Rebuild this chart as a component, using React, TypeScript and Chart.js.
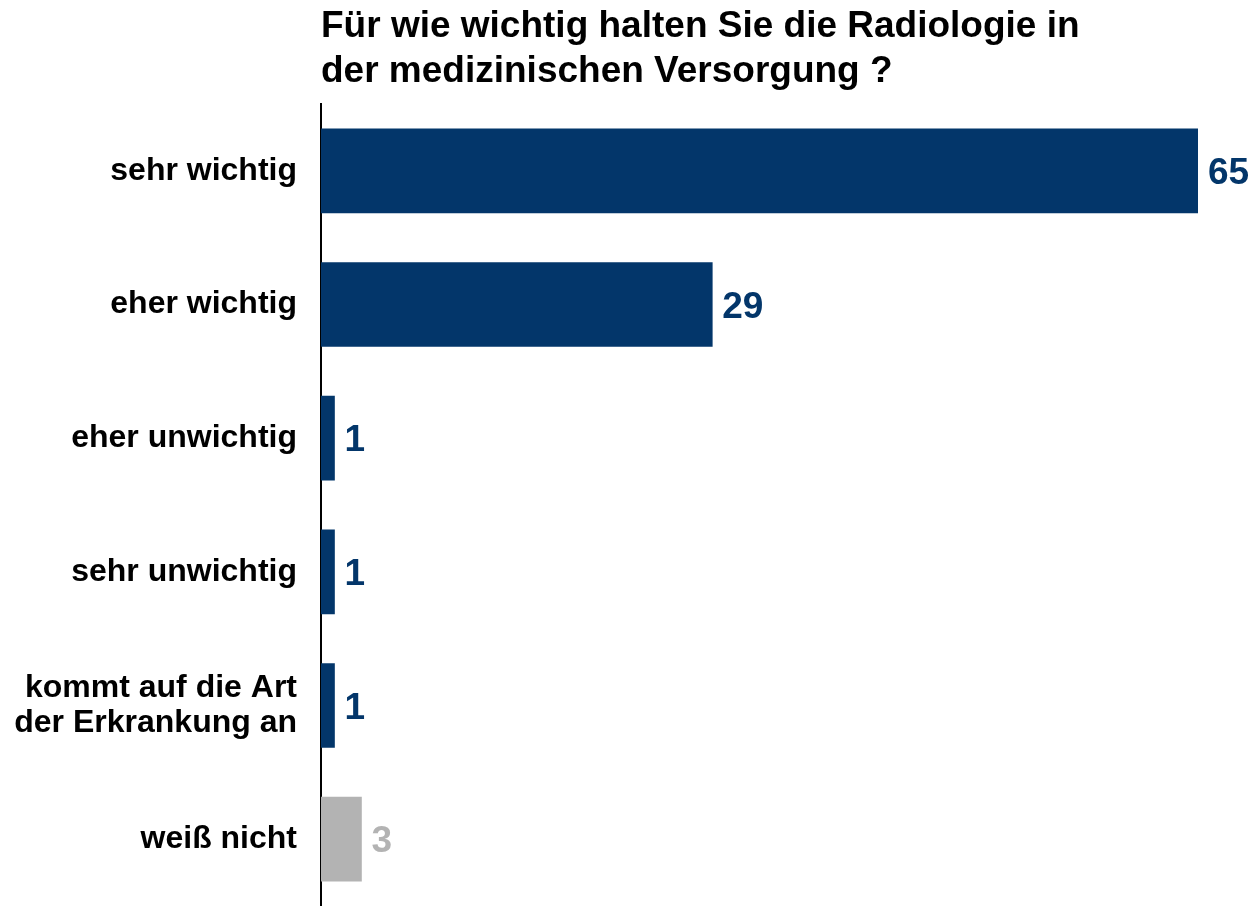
import React, { useEffect, useRef } from "react";
import { Chart, registerables } from "chart.js";

Chart.register(...registerables);

const titleLines = [
  "Für wie wichtig halten Sie die Radiologie in",
  "der medizinischen Versorgung ?",
];
const categories: (string | string[])[] = [
  "sehr wichtig",
  "eher wichtig",
  "eher unwichtig",
  "sehr unwichtig",
  ["kommt auf die Art", "der Erkrankung an"],
  "weiß nicht",
];
const values = [65, 29, 1, 1, 1, 3];
const barColors = ["#03366A", "#03366A", "#03366A", "#03366A", "#03366A", "#B3B3B3"];
const labelColors = ["#03366A", "#03366A", "#03366A", "#03366A", "#03366A", "#B3B3B3"];

const FONT = "'Liberation Sans', Arial, sans-serif";

export default function App() {
  const ref = useRef<HTMLCanvasElement | null>(null);

  useEffect(() => {
    document.body.style.margin = "0";
    const canvas = ref.current;
    if (!canvas) return;

    const titlePlugin = {
      id: "customTitle",
      afterDraw(chart: any) {
        const ctx = chart.ctx;
        ctx.save();
        ctx.font = `bold 37px ${FONT}`;
        ctx.fillStyle = "#000";
        ctx.textAlign = "left";
        ctx.textBaseline = "alphabetic";
        const x = chart.chartArea.left;
        ctx.fillText(titleLines[0], x, 37);
        ctx.fillText(titleLines[1], x, 82);
        ctx.restore();
      },
    };

    const valuePlugin = {
      id: "valueLabels",
      afterDatasetsDraw(chart: any) {
        const ctx = chart.ctx;
        const meta = chart.getDatasetMeta(0);
        ctx.save();
        ctx.font = `bold 37px ${FONT}`;
        ctx.textAlign = "left";
        ctx.textBaseline = "alphabetic";
        meta.data.forEach((bar: any, i: number) => {
          ctx.fillStyle = labelColors[i];
          ctx.fillText(String(values[i]), bar.x + 10, bar.y + 13);
        });
        ctx.restore();
      },
    };

    const chart = new Chart(canvas, {
      type: "bar",
      data: {
        labels: categories,
        datasets: [
          {
            data: values,
            backgroundColor: barColors,
            borderWidth: 0,
            barThickness: 84,
          },
        ],
      },
      options: {
        indexAxis: "y",
        animation: false,
        responsive: false,
        layout: { padding: { top: 104, right: 56, bottom: 0, left: 0 } },
        plugins: {
          legend: { display: false },
          tooltip: { enabled: false },
          title: { display: false },
        },
        scales: {
          x: {
            display: false,
            min: 0,
            max: 65,
          },
          y: {
            grid: { display: false, drawTicks: false },
            border: { display: true, color: "#000", width: 2 },
            ticks: {
              color: "#000",
              padding: 24,
              font: { family: FONT, size: 32, weight: "bold", lineHeight: 1.1 },
            },
            afterFit(scale: any) {
              scale.width = 321;
              scale.paddingTop = 0;
              scale.paddingBottom = 0;
            },
          },
        },
      },
      plugins: [titlePlugin, valuePlugin],
    });

    return () => chart.destroy();
  }, []);

  return (
    <div style={{ width: 1254, height: 906, background: "#fff" }}>
      <canvas ref={ref} width={1254} height={906} style={{ display: "block" }} />
    </div>
  );
}
